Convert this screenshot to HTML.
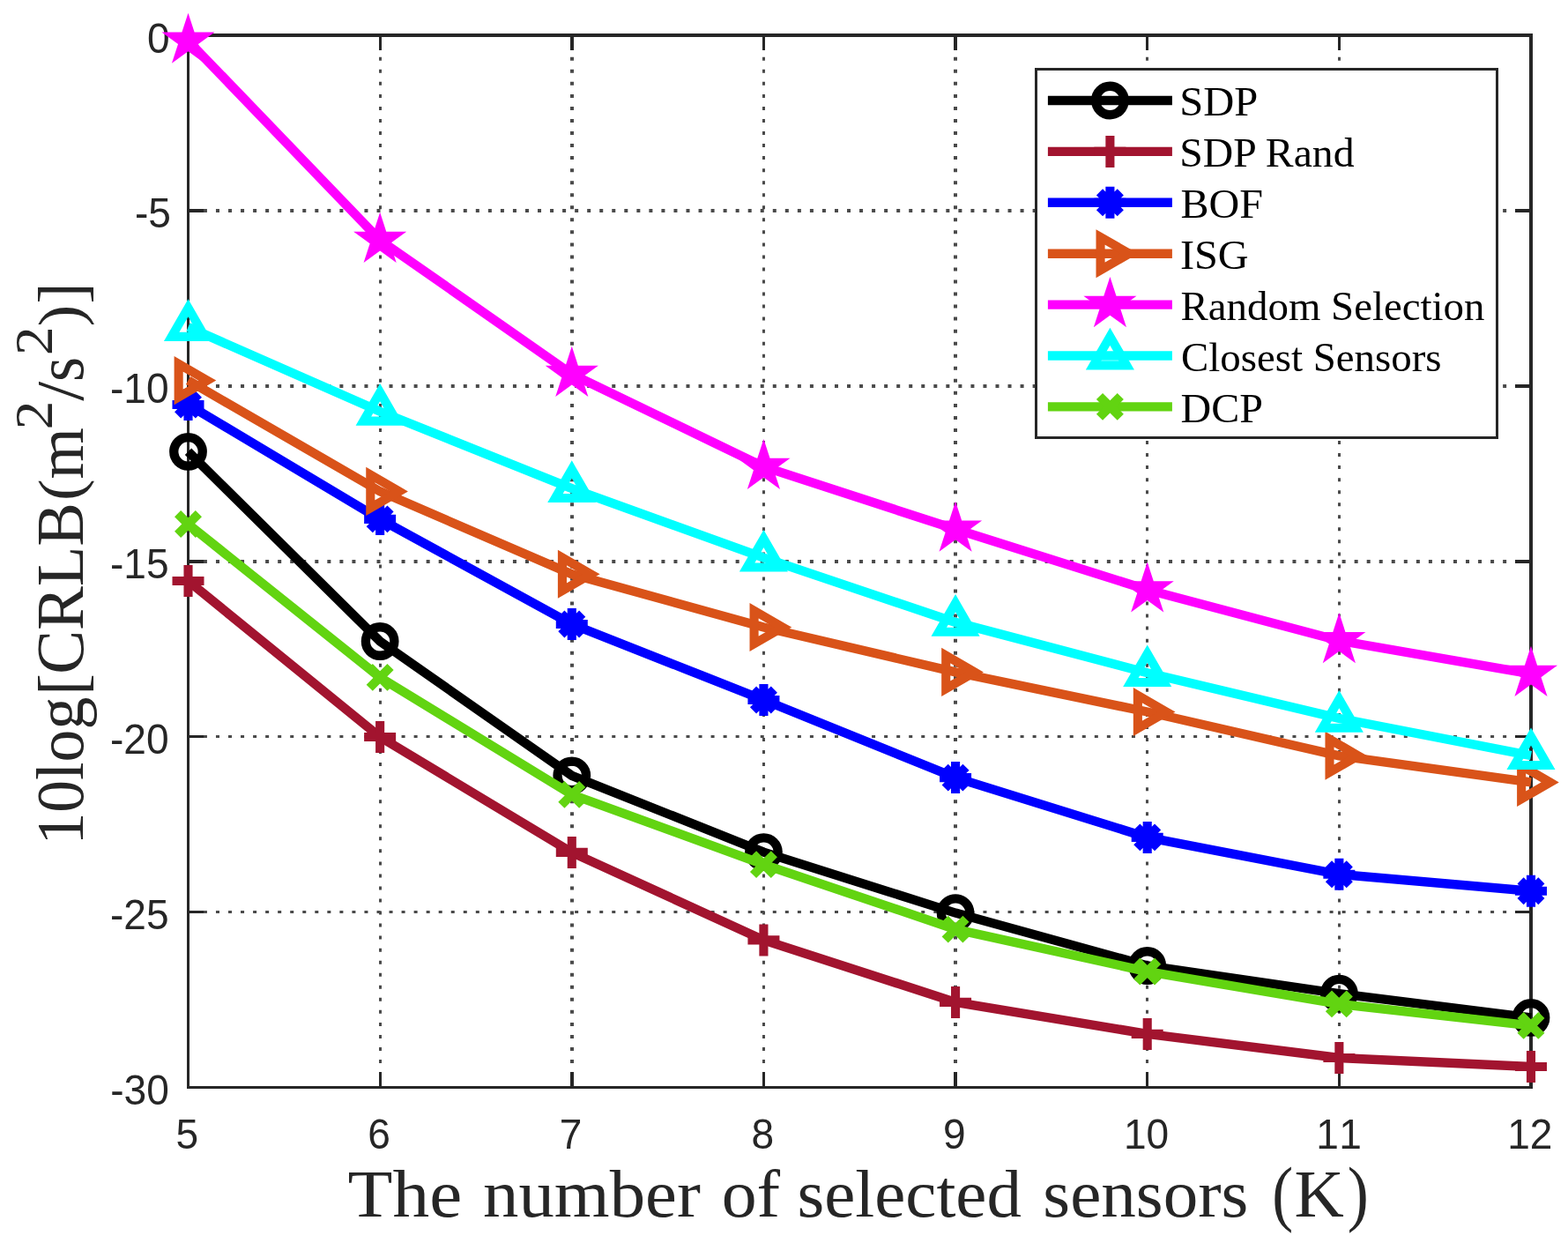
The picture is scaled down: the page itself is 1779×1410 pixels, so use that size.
<!DOCTYPE html>
<html lang="en"><head><meta charset="utf-8"><title>CRLB versus the number of selected sensors</title>
<style>html,body{margin:0;padding:0;background:#fff}body{width:1779px;height:1410px;overflow:hidden}svg{display:block}.tk{font-family:"Liberation Sans",Arial,Helvetica,sans-serif;font-size:48.2px;fill:#262626}.lg{font-family:"Liberation Serif","Times New Roman",Times,serif;font-size:45.83px;fill:#000}.ax{font-family:"Liberation Serif","Times New Roman",Times,serif;fill:#262626}</style></head><body>
<svg width="1779" height="1410" viewBox="0 0 1779 1410">
<rect width="1779" height="1410" fill="#fff"/>
<g stroke="#4a4a4a" stroke-dasharray="4.0 10.04" fill="none"><line x1="431.5" y1="1234.1" x2="431.5" y2="42" stroke-width="3"/><line x1="649" y1="1234.1" x2="649" y2="42" stroke-width="4"/><line x1="866.5" y1="1234.1" x2="866.5" y2="42" stroke-width="3"/><line x1="1084" y1="1234.1" x2="1084" y2="42" stroke-width="4"/><line x1="1301.5" y1="1234.1" x2="1301.5" y2="42" stroke-width="3"/><line x1="1519.5" y1="1234.1" x2="1519.5" y2="42" stroke-width="3"/><line x1="216.9" y1="239" x2="1735" y2="239" stroke-width="4"/><line x1="216.9" y1="438" x2="1735" y2="438" stroke-width="4"/><line x1="216.9" y1="637" x2="1735" y2="637" stroke-width="4"/><line x1="216.9" y1="835.5" x2="1735" y2="835.5" stroke-width="3"/><line x1="216.9" y1="1034.5" x2="1735" y2="1034.5" stroke-width="3"/></g>
<g stroke="#262626" fill="none"><path d="M431.5 1232V1216M431.5 42V57" stroke-width="3"/><path d="M649 1232V1216M649 42V57" stroke-width="4"/><path d="M866.5 1232V1216M866.5 42V57" stroke-width="3"/><path d="M1084 1232V1216M1084 42V57" stroke-width="4"/><path d="M1301.5 1232V1216M1301.5 42V57" stroke-width="3"/><path d="M1519.5 1232V1216M1519.5 42V57" stroke-width="3"/><path d="M215 239H231M1735 239H1719" stroke-width="4"/><path d="M215 438H231M1735 438H1719" stroke-width="4"/><path d="M215 637H231M1735 637H1719" stroke-width="4"/><path d="M215 835.5H231M1735 835.5H1719" stroke-width="3"/><path d="M215 1034.5H231M1735 1034.5H1719" stroke-width="3"/><path d="M213.5 38V1235M212 1233.5H1739" stroke-width="3"/><path d="M212 40H1739M1737 38V1235" stroke-width="4"/></g>
<text class="tk" x="199.48" y="1303.1" textLength="25.63" lengthAdjust="spacingAndGlyphs">5</text>
<text class="tk" x="417.13" y="1303.1" textLength="25.63" lengthAdjust="spacingAndGlyphs">6</text>
<text class="tk" x="634.77" y="1303.1" textLength="25.63" lengthAdjust="spacingAndGlyphs">7</text>
<text class="tk" x="852.41" y="1303.1" textLength="25.63" lengthAdjust="spacingAndGlyphs">8</text>
<text class="tk" x="1070.06" y="1303.1" textLength="25.63" lengthAdjust="spacingAndGlyphs">9</text>
<text class="tk" x="1274.89" y="1303.1" textLength="51.25" lengthAdjust="spacingAndGlyphs">10</text>
<text class="tk" y="1303.1"><tspan x="1493.35" textLength="25.63" lengthAdjust="spacingAndGlyphs">1</tspan><tspan x="1519.35" textLength="25.63" lengthAdjust="spacingAndGlyphs">1</tspan></text>
<text class="tk" x="1710.17" y="1303.1" textLength="51.25" lengthAdjust="spacingAndGlyphs">12</text>
<text class="tk" x="166.99" y="59.6" textLength="25.63" lengthAdjust="spacingAndGlyphs">0</text>
<text class="tk" x="153" y="258.25" textLength="40.97" lengthAdjust="spacingAndGlyphs">-5</text>
<text class="tk" x="124.97" y="457.45" textLength="66.59" lengthAdjust="spacingAndGlyphs">-10</text>
<text class="tk" x="124.97" y="656.25" textLength="66.59" lengthAdjust="spacingAndGlyphs">-15</text>
<text class="tk" x="124.97" y="855.35" textLength="66.59" lengthAdjust="spacingAndGlyphs">-20</text>
<text class="tk" x="124.97" y="1054.45" textLength="66.59" lengthAdjust="spacingAndGlyphs">-25</text>
<text class="tk" x="125.29" y="1253.25" textLength="66.59" lengthAdjust="spacingAndGlyphs">-30</text>
<text class="ax" font-size="76"><tspan x="394.63" y="1379.8" textLength="129.58" lengthAdjust="spacingAndGlyphs">The</tspan> <tspan x="548.14" y="1379.8" textLength="246.66" lengthAdjust="spacingAndGlyphs">number</tspan> <tspan x="818.75" y="1379.8" textLength="66.41" lengthAdjust="spacingAndGlyphs">of</tspan> <tspan x="904.48" y="1379.8" textLength="254.46" lengthAdjust="spacingAndGlyphs">selected</tspan> <tspan x="1183.38" y="1379.8" textLength="233.02" lengthAdjust="spacingAndGlyphs">sensors</tspan> <tspan x="1443.24" y="1380.7" font-size="82" textLength="23.91" lengthAdjust="spacingAndGlyphs">(</tspan><tspan x="1468.49" y="1379.8" textLength="56.32" lengthAdjust="spacingAndGlyphs">K</tspan><tspan x="1528.78" y="1380.7" font-size="82" textLength="24.06" lengthAdjust="spacingAndGlyphs">)</tspan></text>
<text class="ax" font-size="76" transform="translate(93.8 952) rotate(-90)"><tspan x="-6.54" y="0" textLength="167.77" lengthAdjust="spacingAndGlyphs">10log</tspan><tspan x="163.3" y="2.3" textLength="24.63" lengthAdjust="spacingAndGlyphs">[</tspan><tspan x="187.36" y="0" textLength="194.72" lengthAdjust="spacingAndGlyphs">CRLB</tspan><tspan x="383.96" y="-2.1" font-size="70.7" textLength="24.64" lengthAdjust="spacingAndGlyphs">(</tspan><tspan x="408.62" y="0" textLength="58.29" lengthAdjust="spacingAndGlyphs">m</tspan><tspan x="464.86" y="-34.7" font-size="61" textLength="32.62" lengthAdjust="spacingAndGlyphs">2</tspan><tspan x="497.2" y="0" textLength="22.03" lengthAdjust="spacingAndGlyphs">/</tspan><tspan x="518.95" y="0" textLength="28.15" lengthAdjust="spacingAndGlyphs">s</tspan><tspan x="549.06" y="-34.7" font-size="61" textLength="32.62" lengthAdjust="spacingAndGlyphs">2</tspan><tspan x="581.53" y="-2.1" font-size="70.7" textLength="24.77" lengthAdjust="spacingAndGlyphs">)</tspan><tspan x="607.53" y="2.3" textLength="23.67" lengthAdjust="spacingAndGlyphs">]</tspan></text>
<g><polyline points="213.5,512.3 431.14,727.5 648.79,879.8 866.43,966.6 1084.07,1035.6 1301.71,1095.5 1519.36,1127.1 1737,1154.3" fill="none" stroke="#000000" stroke-width="10.42" stroke-linejoin="miter" stroke-miterlimit="10"/>
<circle cx="213.5" cy="512.3" r="16.25" fill="none" stroke="#000000" stroke-width="10.3"/>
<circle cx="431.14" cy="727.5" r="16.25" fill="none" stroke="#000000" stroke-width="10.3"/>
<circle cx="648.79" cy="879.8" r="16.25" fill="none" stroke="#000000" stroke-width="10.3"/>
<circle cx="866.43" cy="966.6" r="16.25" fill="none" stroke="#000000" stroke-width="10.3"/>
<circle cx="1084.07" cy="1035.6" r="16.25" fill="none" stroke="#000000" stroke-width="10.3"/>
<circle cx="1301.71" cy="1095.5" r="16.25" fill="none" stroke="#000000" stroke-width="10.3"/>
<circle cx="1519.36" cy="1127.1" r="16.25" fill="none" stroke="#000000" stroke-width="10.3"/>
<circle cx="1737" cy="1154.3" r="16.25" fill="none" stroke="#000000" stroke-width="10.3"/>
</g>
<g><polyline points="213.5,659 431.14,836 648.79,966.9 866.43,1066.4 1084.07,1136.9 1301.71,1172.9 1519.36,1200 1737,1210" fill="none" stroke="#A2142F" stroke-width="10.42" stroke-linejoin="miter" stroke-miterlimit="10"/>
<path d="M195.5 659H231.5M213.5 641V677" fill="none" stroke="#A2142F" stroke-width="10.1"/>
<path d="M413.14 836H449.14M431.14 818V854" fill="none" stroke="#A2142F" stroke-width="10.1"/>
<path d="M630.79 966.9H666.79M648.79 948.9V984.9" fill="none" stroke="#A2142F" stroke-width="10.1"/>
<path d="M848.43 1066.4H884.43M866.43 1048.4V1084.4" fill="none" stroke="#A2142F" stroke-width="10.1"/>
<path d="M1066.07 1136.9H1102.07M1084.07 1118.9V1154.9" fill="none" stroke="#A2142F" stroke-width="10.1"/>
<path d="M1283.71 1172.9H1319.71M1301.71 1154.9V1190.9" fill="none" stroke="#A2142F" stroke-width="10.1"/>
<path d="M1501.36 1200H1537.36M1519.36 1182V1218" fill="none" stroke="#A2142F" stroke-width="10.1"/>
<path d="M1719 1210H1755M1737 1192V1228" fill="none" stroke="#A2142F" stroke-width="10.1"/>
</g>
<g><polyline points="213.5,459 431.14,588.9 648.79,708 866.43,794 1084.07,882.1 1301.71,949.9 1519.36,991.8 1737,1010.75" fill="none" stroke="#0000FF" stroke-width="10.42" stroke-linejoin="miter" stroke-miterlimit="10"/>
<path d="M195.5 459H231.5M213.5 441V477M201.6 447.1L225.4 470.9M201.6 470.9L225.4 447.1" fill="none" stroke="#0000FF" stroke-width="10.1"/>
<path d="M413.14 588.9H449.14M431.14 570.9V606.9M419.24 577L443.04 600.8M419.24 600.8L443.04 577" fill="none" stroke="#0000FF" stroke-width="10.1"/>
<path d="M630.79 708H666.79M648.79 690V726M636.89 696.1L660.69 719.9M636.89 719.9L660.69 696.1" fill="none" stroke="#0000FF" stroke-width="10.1"/>
<path d="M848.43 794H884.43M866.43 776V812M854.53 782.1L878.33 805.9M854.53 805.9L878.33 782.1" fill="none" stroke="#0000FF" stroke-width="10.1"/>
<path d="M1066.07 882.1H1102.07M1084.07 864.1V900.1M1072.17 870.2L1095.97 894M1072.17 894L1095.97 870.2" fill="none" stroke="#0000FF" stroke-width="10.1"/>
<path d="M1283.71 949.9H1319.71M1301.71 931.9V967.9M1289.81 938L1313.61 961.8M1289.81 961.8L1313.61 938" fill="none" stroke="#0000FF" stroke-width="10.1"/>
<path d="M1501.36 991.8H1537.36M1519.36 973.8V1009.8M1507.46 979.9L1531.26 1003.7M1507.46 1003.7L1531.26 979.9" fill="none" stroke="#0000FF" stroke-width="10.1"/>
<path d="M1719 1010.75H1755M1737 992.75V1028.75M1725.1 998.85L1748.9 1022.65M1725.1 1022.65L1748.9 998.85" fill="none" stroke="#0000FF" stroke-width="10.1"/>
</g>
<g><polyline points="213.5,431.6 431.14,557.4 648.79,651.3 866.43,711.5 1084.07,762.4 1301.71,807.5 1519.36,857.3 1737,887.4" fill="none" stroke="#D95319" stroke-width="10.42" stroke-linejoin="miter" stroke-miterlimit="10"/>
<path d="M235.2 431.6L202.65 412.81V450.39Z" fill="none" stroke="#D95319" stroke-width="10.1" stroke-linejoin="miter" stroke-miterlimit="10"/>
<path d="M452.84 557.4L420.29 538.61V576.19Z" fill="none" stroke="#D95319" stroke-width="10.1" stroke-linejoin="miter" stroke-miterlimit="10"/>
<path d="M670.49 651.3L637.94 632.51V670.09Z" fill="none" stroke="#D95319" stroke-width="10.1" stroke-linejoin="miter" stroke-miterlimit="10"/>
<path d="M888.13 711.5L855.58 692.71V730.29Z" fill="none" stroke="#D95319" stroke-width="10.1" stroke-linejoin="miter" stroke-miterlimit="10"/>
<path d="M1105.77 762.4L1073.22 743.61V781.19Z" fill="none" stroke="#D95319" stroke-width="10.1" stroke-linejoin="miter" stroke-miterlimit="10"/>
<path d="M1323.41 807.5L1290.86 788.71V826.29Z" fill="none" stroke="#D95319" stroke-width="10.1" stroke-linejoin="miter" stroke-miterlimit="10"/>
<path d="M1541.06 857.3L1508.51 838.51V876.09Z" fill="none" stroke="#D95319" stroke-width="10.1" stroke-linejoin="miter" stroke-miterlimit="10"/>
<path d="M1758.7 887.4L1726.15 868.61V906.19Z" fill="none" stroke="#D95319" stroke-width="10.1" stroke-linejoin="miter" stroke-miterlimit="10"/>
</g>
<g><polyline points="213.5,46.3 431.14,272.4 648.79,424.4 866.43,529.5 1084.07,600.3 1301.71,669 1519.36,726.7 1737,764.4" fill="none" stroke="#FF00FF" stroke-width="10.42" stroke-linejoin="miter" stroke-miterlimit="10"/>
<polygon points="213.5,14.7 220.6,36.53 243.55,36.54 224.98,50.03 232.07,71.86 213.5,58.37 194.93,71.86 202.02,50.03 183.45,36.54 206.4,36.53" fill="#FF00FF"/>
<polygon points="431.14,240.8 438.24,262.63 461.2,262.64 442.62,276.13 449.72,297.96 431.14,284.47 412.57,297.96 419.66,276.13 401.09,262.64 424.05,262.63" fill="#FF00FF"/>
<polygon points="648.79,392.8 655.88,414.63 678.84,414.64 660.27,428.13 667.36,449.96 648.79,436.47 630.21,449.96 637.31,428.13 618.73,414.64 641.69,414.63" fill="#FF00FF"/>
<polygon points="866.43,497.9 873.52,519.73 896.48,519.74 877.91,533.23 885,555.06 866.43,541.57 847.85,555.06 854.95,533.23 836.38,519.74 859.33,519.73" fill="#FF00FF"/>
<polygon points="1084.07,568.7 1091.17,590.53 1114.12,590.54 1095.55,604.03 1102.65,625.86 1084.07,612.37 1065.5,625.86 1072.59,604.03 1054.02,590.54 1076.98,590.53" fill="#FF00FF"/>
<polygon points="1301.71,637.4 1308.81,659.23 1331.77,659.24 1313.19,672.73 1320.29,694.56 1301.71,681.07 1283.14,694.56 1290.23,672.73 1271.66,659.24 1294.62,659.23" fill="#FF00FF"/>
<polygon points="1519.36,695.1 1526.45,716.93 1549.41,716.94 1530.84,730.43 1537.93,752.26 1519.36,738.77 1500.78,752.26 1507.88,730.43 1489.3,716.94 1512.26,716.93" fill="#FF00FF"/>
<polygon points="1737,732.8 1744.1,754.63 1767.05,754.64 1748.48,768.13 1755.57,789.96 1737,776.47 1718.43,789.96 1725.52,768.13 1706.95,754.64 1729.9,754.63" fill="#FF00FF"/>
</g>
<g><polyline points="213.5,371 431.14,466.8 648.79,554.1 866.43,632.7 1084.07,705.9 1301.71,763.2 1519.36,814.9 1737,857.2" fill="none" stroke="#00FFFF" stroke-width="10.42" stroke-linejoin="miter" stroke-miterlimit="10"/>
<path d="M213.5 349.3L232.29 381.85H194.71Z" fill="none" stroke="#00FFFF" stroke-width="10.1" stroke-linejoin="miter" stroke-miterlimit="10"/>
<path d="M431.14 445.1L449.94 477.65H412.35Z" fill="none" stroke="#00FFFF" stroke-width="10.1" stroke-linejoin="miter" stroke-miterlimit="10"/>
<path d="M648.79 532.4L667.58 564.95H629.99Z" fill="none" stroke="#00FFFF" stroke-width="10.1" stroke-linejoin="miter" stroke-miterlimit="10"/>
<path d="M866.43 611L885.22 643.55H847.64Z" fill="none" stroke="#00FFFF" stroke-width="10.1" stroke-linejoin="miter" stroke-miterlimit="10"/>
<path d="M1084.07 684.2L1102.86 716.75H1065.28Z" fill="none" stroke="#00FFFF" stroke-width="10.1" stroke-linejoin="miter" stroke-miterlimit="10"/>
<path d="M1301.71 741.5L1320.51 774.05H1282.92Z" fill="none" stroke="#00FFFF" stroke-width="10.1" stroke-linejoin="miter" stroke-miterlimit="10"/>
<path d="M1519.36 793.2L1538.15 825.75H1500.56Z" fill="none" stroke="#00FFFF" stroke-width="10.1" stroke-linejoin="miter" stroke-miterlimit="10"/>
<path d="M1737 835.5L1755.79 868.05H1718.21Z" fill="none" stroke="#00FFFF" stroke-width="10.1" stroke-linejoin="miter" stroke-miterlimit="10"/>
</g>
<g><polyline points="213.5,594.5 431.14,768.4 648.79,901.35 866.43,980.6 1084.07,1054.1 1301.71,1102.06 1519.36,1138.9 1737,1163.4" fill="none" stroke="#62D411" stroke-width="10.42" stroke-linejoin="miter" stroke-miterlimit="10"/>
<path d="M201.6 582.6L225.4 606.4M201.6 606.4L225.4 582.6" fill="none" stroke="#62D411" stroke-width="10.1"/>
<path d="M419.24 756.5L443.04 780.3M419.24 780.3L443.04 756.5" fill="none" stroke="#62D411" stroke-width="10.1"/>
<path d="M636.89 889.45L660.69 913.25M636.89 913.25L660.69 889.45" fill="none" stroke="#62D411" stroke-width="10.1"/>
<path d="M854.53 968.7L878.33 992.5M854.53 992.5L878.33 968.7" fill="none" stroke="#62D411" stroke-width="10.1"/>
<path d="M1072.17 1042.2L1095.97 1066M1072.17 1066L1095.97 1042.2" fill="none" stroke="#62D411" stroke-width="10.1"/>
<path d="M1289.81 1090.16L1313.61 1113.96M1289.81 1113.96L1313.61 1090.16" fill="none" stroke="#62D411" stroke-width="10.1"/>
<path d="M1507.46 1127L1531.26 1150.8M1507.46 1150.8L1531.26 1127" fill="none" stroke="#62D411" stroke-width="10.1"/>
<path d="M1725.1 1151.5L1748.9 1175.3M1725.1 1175.3L1748.9 1151.5" fill="none" stroke="#62D411" stroke-width="10.1"/>
</g>
<rect x="1175.5" y="78.5" width="523" height="418" fill="#fff" stroke="#262626" stroke-width="3"/>
<line x1="1188.9" y1="114" x2="1329.9" y2="114" stroke="#000000" stroke-width="10.42"/>
<circle cx="1259.4" cy="114" r="16.25" fill="none" stroke="#000000" stroke-width="10.3"/>
<text class="lg" x="1338.22" y="131.4" textLength="89.01" lengthAdjust="spacingAndGlyphs">SDP</text>
<line x1="1188.9" y1="171.9" x2="1329.9" y2="171.9" stroke="#A2142F" stroke-width="10.42"/>
<path d="M1241.4 171.9H1277.4M1259.4 153.9V189.9" fill="none" stroke="#A2142F" stroke-width="10.1"/>
<text class="lg" x="1338.28" y="189.3" textLength="198.22" lengthAdjust="spacingAndGlyphs">SDP Rand</text>
<line x1="1188.9" y1="229.8" x2="1329.9" y2="229.8" stroke="#0000FF" stroke-width="10.42"/>
<path d="M1241.4 229.8H1277.4M1259.4 211.8V247.8M1247.5 217.9L1271.3 241.7M1247.5 241.7L1271.3 217.9" fill="none" stroke="#0000FF" stroke-width="10.1"/>
<text class="lg" x="1339.49" y="247.2" textLength="93.55" lengthAdjust="spacingAndGlyphs">BOF</text>
<line x1="1188.9" y1="287.7" x2="1329.9" y2="287.7" stroke="#D95319" stroke-width="10.42"/>
<path d="M1281.1 287.7L1248.55 268.91V306.49Z" fill="none" stroke="#D95319" stroke-width="10.1" stroke-linejoin="miter" stroke-miterlimit="10"/>
<text class="lg" x="1338.96" y="305.1" textLength="77.77" lengthAdjust="spacingAndGlyphs">ISG</text>
<line x1="1188.9" y1="345.6" x2="1329.9" y2="345.6" stroke="#FF00FF" stroke-width="10.42"/>
<polygon points="1259.4,314 1266.5,335.83 1289.45,335.84 1270.88,349.33 1277.97,371.16 1259.4,357.67 1240.83,371.16 1247.92,349.33 1229.35,335.84 1252.3,335.83" fill="#FF00FF"/>
<text class="lg" x="1339.52" y="363" textLength="344.99" lengthAdjust="spacingAndGlyphs">Random Selection</text>
<line x1="1188.9" y1="403.5" x2="1329.9" y2="403.5" stroke="#00FFFF" stroke-width="10.42"/>
<path d="M1259.4 381.8L1278.19 414.35H1240.61Z" fill="none" stroke="#00FFFF" stroke-width="10.1" stroke-linejoin="miter" stroke-miterlimit="10"/>
<text class="lg" x="1340.06" y="420.9" textLength="295.43" lengthAdjust="spacingAndGlyphs">Closest Sensors</text>
<line x1="1188.9" y1="461.4" x2="1329.9" y2="461.4" stroke="#62D411" stroke-width="10.42"/>
<path d="M1247.5 449.5L1271.3 473.3M1247.5 473.3L1271.3 449.5" fill="none" stroke="#62D411" stroke-width="10.1"/>
<text class="lg" x="1339.49" y="478.8" textLength="93.41" lengthAdjust="spacingAndGlyphs">DCP</text>
</svg></body></html>
